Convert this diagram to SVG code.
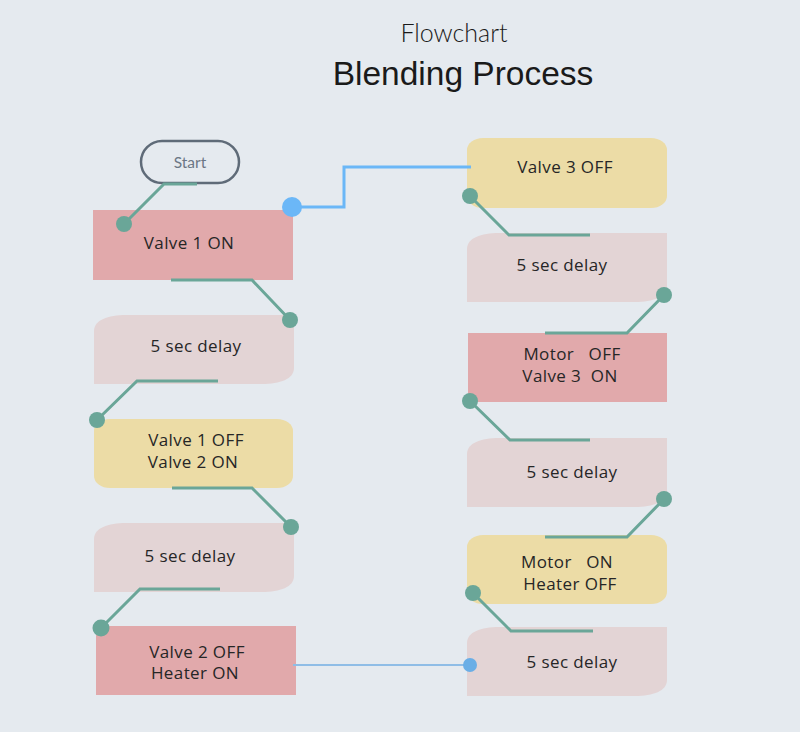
<svg xmlns="http://www.w3.org/2000/svg" width="800" height="732" viewBox="0 0 800 732">
<defs>
<style>
.bg{fill:#e5eaef}
.act{fill:#e1a9ab}
.dly{fill:#e3d4d5}
.yel{fill:#ecdca6}
.t{font-family:"Open Sans","Lato",sans-serif;font-size:17px;letter-spacing:0.4px;fill:#262626;text-anchor:middle;white-space:pre}
.ln{fill:none;stroke:#6aa698;stroke-width:3}
.dot{fill:#6aa698}
.bl{fill:none;stroke:#6bb7f7;stroke-width:3}
</style>
<path id="delay" d="M0,69 L0,16 C0,5 14,0 32,0 L200,0 L200,53 C200,64 186,69 168,69 Z"/>
</defs>
<rect class="bg" x="0" y="0" width="800" height="732"/>
<g id="title">
<text x="454" y="42" font-family="Lato,'Open Sans',sans-serif" font-weight="300" font-size="25" fill="#1a1a1a" text-anchor="middle">Flowchart</text>
<text x="463" y="85" font-family="'Liberation Sans',Arial,sans-serif" font-size="33.5" fill="#1a1a1a" text-anchor="middle">Blending Process</text>
</g>
<g id="start">
<rect x="141" y="141" width="98" height="42" rx="21" fill="#e5eaef" stroke="#5f6b78" stroke-width="2.5"/>
<text x="190" y="168" font-family="Lato,'Open Sans',sans-serif" font-size="15.5" fill="#6b7785" text-anchor="middle">Start</text>
</g>
<g id="valve1on">
<rect class="act" x="93" y="210" width="200" height="70"/>
<text class="t" x="189" y="249">Valve 1 ON</text>
</g>
<g id="delay1">
<use href="#delay" class="dly" x="94" y="315"/>
<text class="t" x="196" y="352">5 sec delay</text>
</g>
<g id="valve1off">
<rect class="yel" x="94" y="419" width="199" height="69" rx="16" ry="12"/>
<text class="t" x="196" y="446">Valve 1 OFF</text>
<text class="t" x="193" y="468">Valve 2 ON</text>
</g>
<g id="delay2">
<use href="#delay" class="dly" x="94" y="523"/>
<text class="t" x="190" y="562">5 sec delay</text>
</g>
<g id="valve2off">
<rect class="act" x="96" y="626" width="200" height="69"/>
<text class="t" x="197" y="658">Valve 2 OFF</text>
<text class="t" x="195" y="679">Heater ON</text>
</g>
<g id="valve3off">
<rect class="yel" x="467" y="138" width="200" height="70" rx="16" ry="12"/>
<text class="t" x="565" y="173">Valve 3 OFF</text>
</g>
<g id="delay3">
<use href="#delay" class="dly" x="467" y="233"/>
<text class="t" x="562" y="271">5 sec delay</text>
</g>
<g id="motoroff">
<rect class="act" x="468" y="333" width="199" height="69"/>
<text class="t" x="572" y="360">Motor   OFF</text>
<text class="t" x="570" y="382">Valve 3  ON</text>
</g>
<g id="delay4">
<use href="#delay" class="dly" x="467" y="438"/>
<text class="t" x="572" y="478">5 sec delay</text>
</g>
<g id="motoron">
<rect class="yel" x="467" y="535" width="200" height="69" rx="16" ry="12"/>
<text class="t" x="567" y="568">Motor   ON</text>
<text class="t" x="570" y="590">Heater OFF</text>
</g>
<g id="delay5">
<use href="#delay" class="dly" x="467" y="627"/>
<text class="t" x="572" y="668">5 sec delay</text>
</g>
<g id="connectors">
<polyline class="ln" points="197,184 164,184 124,224"/>
<polyline class="ln" points="171,280 252,280 290,320"/>
<polyline class="ln" points="218,381 137,381 97,420"/>
<polyline class="ln" points="172,488 252,488 291,527"/>
<polyline class="ln" points="220,589 140,589 101,628"/>
<polyline class="bl" points="292,207 344,207 344,167 471,167"/>
<line x1="293" y1="665" x2="470" y2="665" stroke="#8fbde6" stroke-width="2"/>
<polyline class="ln" points="470,196 509,235 590,235"/>
<polyline class="ln" points="664,295 627,333 545,333"/>
<polyline class="ln" points="470,401 510,440 590,440"/>
<polyline class="ln" points="664,499 627,537 545,537"/>
<polyline class="ln" points="473,593 511,631 593,631"/>
<circle class="dot" cx="124" cy="224" r="8"/>
<circle class="dot" cx="290" cy="320" r="8"/>
<circle class="dot" cx="97" cy="420" r="8"/>
<circle class="dot" cx="291" cy="527" r="8"/>
<circle class="dot" cx="101" cy="628" r="8.5"/>
<circle cx="292" cy="207" r="10" fill="#6bb7f7"/>
<circle cx="470" cy="665" r="7" fill="#6aaee6"/>
<circle class="dot" cx="470" cy="196" r="8"/>
<circle class="dot" cx="664" cy="295" r="8"/>
<circle class="dot" cx="470" cy="401" r="8"/>
<circle class="dot" cx="664" cy="499" r="8"/>
<circle class="dot" cx="473" cy="593" r="8"/>
</g>
</svg>
